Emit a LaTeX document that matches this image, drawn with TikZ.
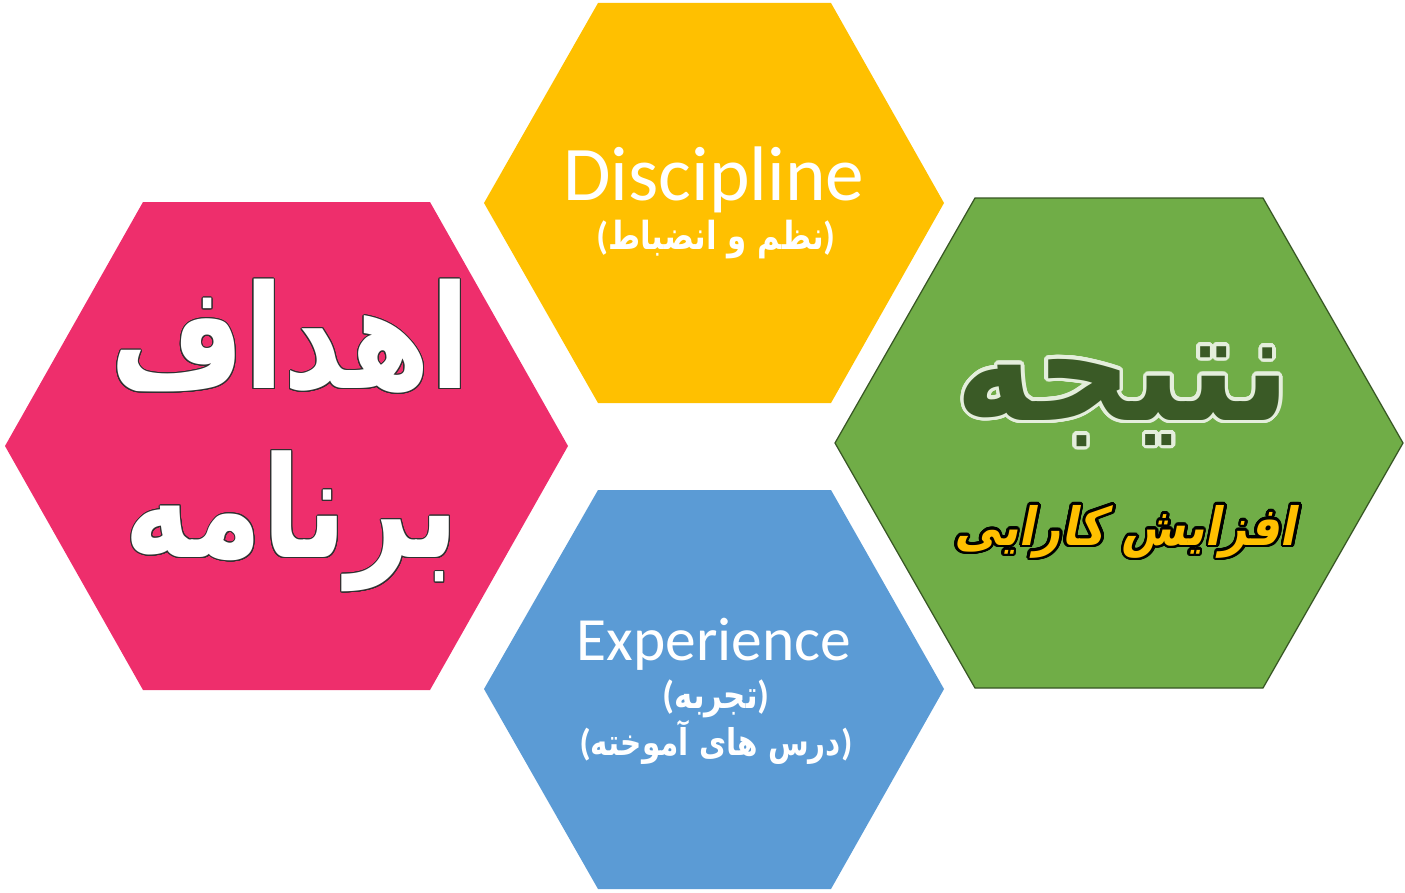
\documentclass[tikz,border=0pt]{standalone}
\usepackage{fontspec}
\usepackage{contour}
\TeXXeTstate=1
\setmainfont{Carlito}
\newfontfamily\arabicfont[Script=Arabic]{DejaVu Sans}
\newfontfamily\arabicnarrow[Script=Arabic,FakeStretch=0.8]{DejaVu Sans}
\newfontfamily\arabicmid[Script=Arabic,FakeStretch=0.88]{DejaVu Sans}
\newfontfamily\arabicslant[Script=Arabic,FakeSlant=0.2,FakeStretch=0.88]{DejaVu Sans}
\definecolor{pinkc}{HTML}{EE2E6C}
\definecolor{yellowc}{HTML}{FFC000}
\definecolor{bluec}{HTML}{5B9BD5}
\definecolor{greenc}{HTML}{70AD47}
\definecolor{greenline}{HTML}{375623}
\definecolor{darkgreen}{HTML}{3A5A26}
\definecolor{palegreen}{HTML}{E4EEDC}
\definecolor{darkoutline}{HTML}{303030}
\newcommand\faparen[1]{\textbf{(}{\arabicnarrow\bfseries\beginR #1\endR}\textbf{)}}
\tikzset{
  lbl/.style={inner sep=0pt, anchor=center, align=center},
  entext/.style={lbl, text=white},
}
\begin{document}
\begin{tikzpicture}[x=0.02cm, y=-0.02cm]
\useasboundingbox (0,0) rectangle (1405,892);
% hexagons
\fill[pinkc] (5,446) -- (143,202) -- (430,202) -- (568,446) -- (430,690) -- (143,690) -- cycle;
\fill[yellowc] (484,203) -- (598,3) -- (831,3) -- (944,203) -- (831,403) -- (598,403) -- cycle;
\fill[bluec] (484,689) -- (598,490) -- (831,490) -- (944,689) -- (831,889) -- (598,889) -- cycle;
\filldraw[fill=greenc, draw=greenline, line width=0.7pt] (835,443) -- (975,198) -- (1263,198) -- (1403,443) -- (1263,688) -- (975,688) -- cycle;
% yellow hexagon texts
\node[entext, font=\fontsize{44}{50}\selectfont] (disc) at (714,180) {Discipline};
\node[lbl, text=white, font=\fontsize{22}{26}\selectfont] (discfa) at (716,240) {\faparen{نظم و انضباط}};
% blue hexagon texts
\node[entext, font=\fontsize{35}{40}\selectfont] (exp) at (714,644) {Experience};
\node[lbl, text=white, font=\fontsize{22}{26}\selectfont] (expfa) at (716,699) {\faparen{تجربه}};
\node[lbl, text=white, font=\fontsize{21}{26}\selectfont] (lessons) at (716,742) {\faparen{درس های آموخته}};
% pink hexagon texts
\contournumber{20}
\contourlength{0.55pt}
\node[lbl, text=white, font=\fontsize{82}{90}\selectfont] (goals) at (290,337) {\arabicnarrow\bfseries\contour{darkoutline}{\beginR اهداف\endR}};
\node[lbl, text=white, font=\fontsize{80}{90}\selectfont] (program) at (292,522) {\arabicnarrow\bfseries\contour{darkoutline}{\beginR برنامه\endR}};
% green hexagon texts
\contournumber{32}
\contourlength{2pt}
\node[lbl, text=darkgreen, font=\fontsize{86}{90}\selectfont] (result) at (1123,398) {\arabicmid\bfseries\contour{palegreen}{\beginR نتیجه\endR}};
\contournumber{28}
\contourlength{1.5pt}
\node[lbl, text=yellowc, font=\fontsize{30}{36}\selectfont] (eff) at (1125,533) {\arabicslant\bfseries\contour{black}{\beginR افزایش کارایی\endR}};
\end{tikzpicture}
\end{document}
